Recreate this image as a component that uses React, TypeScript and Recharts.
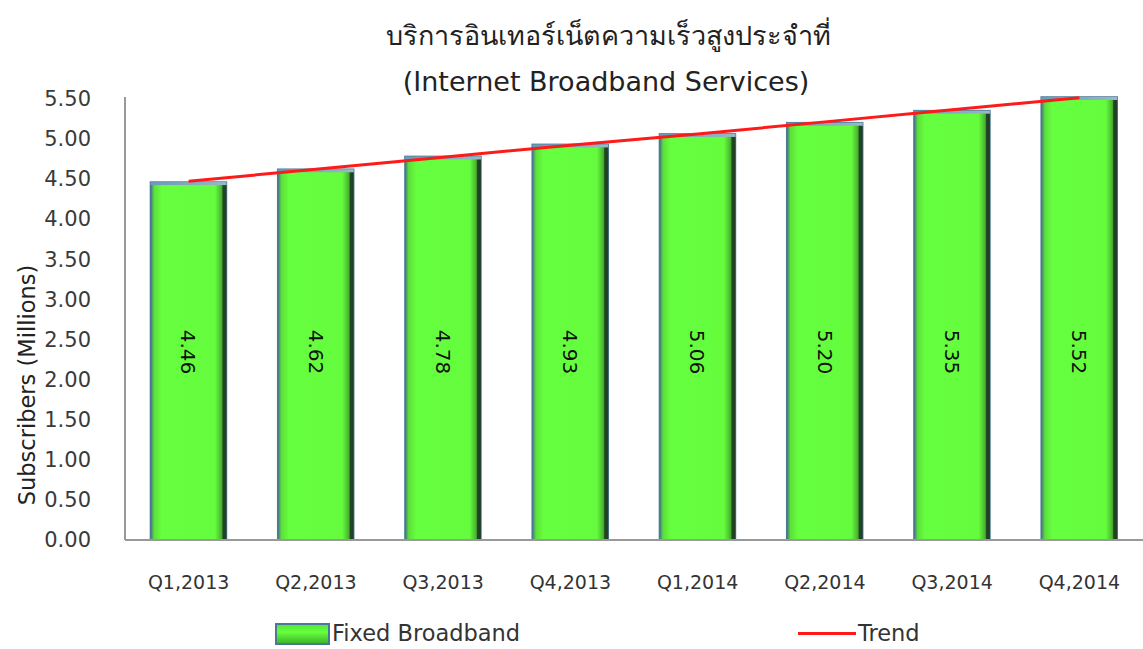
import React from "react";
import { ComposedChart, Bar, Line, XAxis, YAxis, Legend, LabelList } from "recharts";

const categories = ["Q1,2013", "Q2,2013", "Q3,2013", "Q4,2013", "Q1,2014", "Q2,2014", "Q3,2014", "Q4,2014"];
const fixedBroadband = [4.46, 4.62, 4.78, 4.93, 5.06, 5.2, 5.35, 5.52];
const trend = [4.47, 4.62, 4.77, 4.92, 5.06, 5.21, 5.36, 5.51];
const yTicks = [0, 0.5, 1, 1.5, 2, 2.5, 3, 3.5, 4, 4.5, 5, 5.5];

const data = categories.map((c, i) => ({ name: c, fixed: fixedBroadband[i], trend: trend[i] }));

const FONT = "'DejaVu Sans', Verdana, sans-serif";

const BarShape = (props: any) => {
  const { x, y, width, height } = props;
  if (height <= 0) return null;
  return (
    <g>
      <rect x={x} y={y} width={width} height={height} fill="url(#barGrad)" stroke="#4a7896" strokeWidth={1.5} />
      <rect x={x + width - 4} y={y + 3} width={4} height={height - 3} fill="#1f3a22" opacity={0.85} />
      <rect x={x} y={y} width={width} height={3} fill="url(#topGrad)" />
    </g>
  );
};

const RotLabel = (props: any) => {
  const { x, width, value } = props;
  const cx = x + width / 2;
  const cy = 352;
  return (
    <text
      x={cx}
      y={cy}
      transform={`rotate(90, ${cx}, ${cy})`}
      textAnchor="middle"
      dominantBaseline="central"
      fontSize={20}
      fontFamily={FONT}
      fill="#111"
    >
      {Number(value).toFixed(2)}
    </text>
  );
};

const LegendContent = () => (
  <div style={{ position: "relative", width: 1143, height: 30, fontFamily: FONT, fontSize: 22.5, color: "#333" }}>
    <div style={{ position: "absolute", left: 275, top: 11, width: 55, height: 22, boxSizing: "border-box", border: "2px solid #4a7896", background: "linear-gradient(#55e83a, #66ff3c 40%, #3fb82a)" }} />
    <div style={{ position: "absolute", left: 332, top: 7, lineHeight: "28px" }}>Fixed Broadband</div>
    <div style={{ position: "absolute", left: 798, top: 20, width: 58, height: 3, background: "#ff1a1a" }} />
    <div style={{ position: "absolute", left: 858, top: 7, lineHeight: "28px" }}>Trend</div>
  </div>
);

const YLabel = () => (
  <text
    x={27}
    y={385}
    transform="rotate(-90, 27, 385)"
    textAnchor="middle"
    dominantBaseline="central"
    fontSize={22.5}
    fontFamily={FONT}
    fill="#222"
  >
    Subscribers (Millions)
  </text>
);

export default function App() {
  return (
    <div style={{ position: "absolute", left: 0, top: 0, width: 1143, height: 649, background: "#fff" }}>
      <div style={{ position: "absolute", left: 0, top: 15, width: 1216, textAlign: "center", fontFamily: "'Noto Sans', 'DejaVu Sans', sans-serif", fontSize: 27, color: "#222", lineHeight: "40px" }}>
        บริการอินเทอร์เน็ตความเร็วสูงประจำที่
      </div>
      <div style={{ position: "absolute", left: 0, top: 62, width: 1212, textAlign: "center", fontFamily: FONT, fontSize: 27, color: "#222", lineHeight: "40px" }}>
        (Internet Broadband Services)
      </div>
      <ComposedChart
        width={1143}
        height={649}
        data={data}
        margin={{ top: 97, right: 0, bottom: 49, left: 0 }}
        barCategoryGap="20%"
        style={{ position: "absolute", left: 0, top: 0 }}
      >
        <defs>
          <linearGradient id="barGrad" x1="0" y1="0" x2="1" y2="0">
            <stop offset="0%" stopColor="#3f7088" />
            <stop offset="5%" stopColor="#5ee03a" />
            <stop offset="15%" stopColor="#66ff3f" />
            <stop offset="85%" stopColor="#64fc3d" />
            <stop offset="93%" stopColor="#48b830" />
            <stop offset="100%" stopColor="#2a4a2a" />
          </linearGradient>
          <linearGradient id="topGrad" x1="0" y1="0" x2="1" y2="0">
            <stop offset="0%" stopColor="#6a9ab8" />
            <stop offset="100%" stopColor="#9ab8c8" />
          </linearGradient>
        </defs>
        <XAxis
          dataKey="name"
          axisLine={{ stroke: "#999", strokeWidth: 2 }}
          tickLine={false}
          tick={{ fontSize: 19, fontFamily: FONT, fill: "#333" }}
          tickMargin={30}
          interval={0}
        />
        <YAxis
          width={125}
          domain={[0, 5.5]}
          ticks={yTicks}
          tickFormatter={(v: number) => v.toFixed(2)}
          axisLine={{ stroke: "#999", strokeWidth: 2 }}
          tickLine={false}
          tick={{ fontSize: 21, fontFamily: FONT, fill: "#3a3a3a" }}
          tickMargin={28}
          interval={0}
        />
        <Bar dataKey="fixed" name="Fixed Broadband" shape={BarShape} isAnimationActive={false}>
          <LabelList dataKey="fixed" content={RotLabel} />
        </Bar>
        <Line dataKey="trend" name="Trend" type="linear" stroke="#ff1a1a" strokeWidth={3} dot={false} activeDot={false} isAnimationActive={false} />
        <Legend content={LegendContent} wrapperStyle={{ position: "absolute", left: 0, top: 612, width: 1143 }} />
        <YLabel />
      </ComposedChart>
    </div>
  );
}
